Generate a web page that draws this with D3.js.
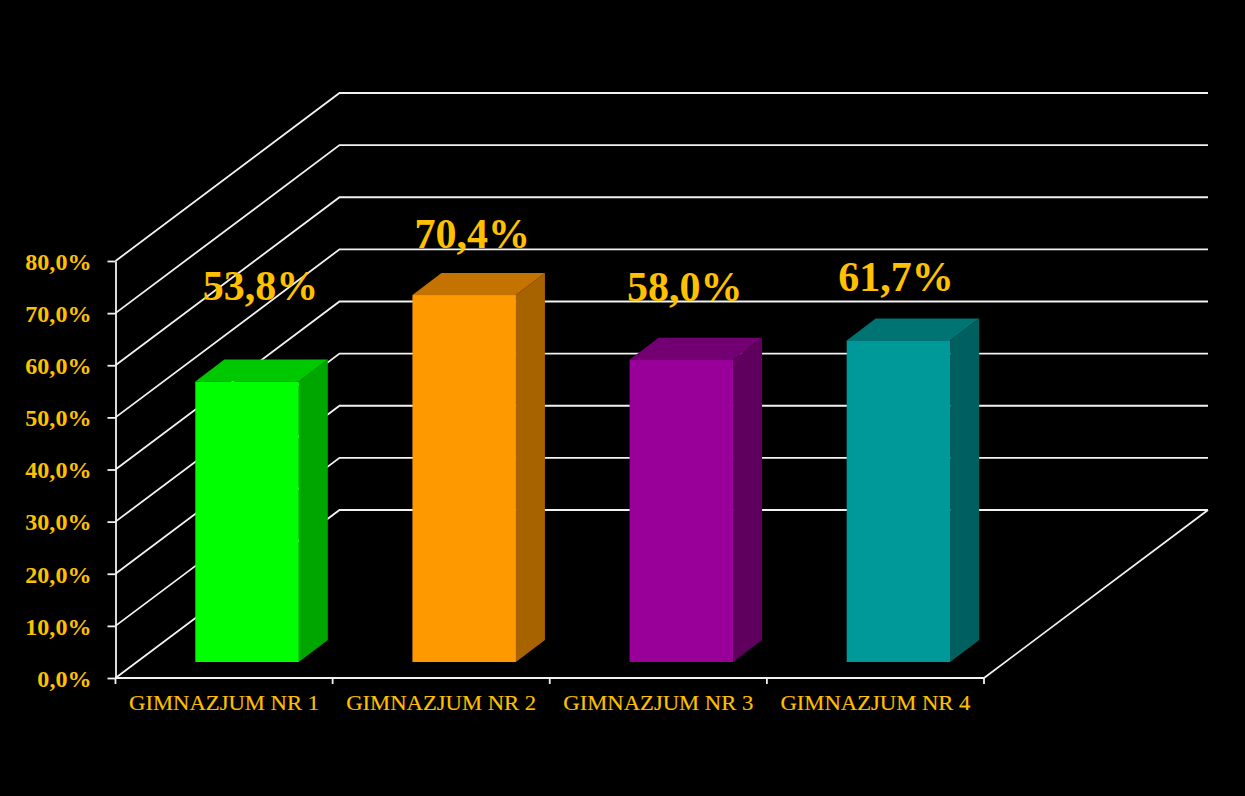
<!DOCTYPE html>
<html><head><meta charset="utf-8">
<script src="https://cdn.jsdelivr.net/npm/d3@7/dist/d3.min.js"></script>
<style>html,body{margin:0;background:#000;overflow:hidden}svg{display:block}</style></head>
<body><svg id="c" width="1245" height="796"></svg>
<script>
const categories = ["GIMNAZJUM NR 1","GIMNAZJUM NR 2","GIMNAZJUM NR 3","GIMNAZJUM NR 4"];
const values = [53.8,70.4,58.0,61.7];
const valueLabels = ["53,8%","70,4%","58,0%","61,7%"];
const tickValues = [0,10,20,30,40,50,60,70,80];
const tickLabels = ["0,0%","10,0%","20,0%","30,0%","40,0%","50,0%","60,0%","70,0%","80,0%"];
const frontColors = ["#00FF00","#FF9900","#990099","#009999"];
const topColors = ["#00C800","#C47200","#730073","#007373"];
const sideColors = ["#00A600","#A66300","#5F005F","#006060"];
// manual placement of the value labels, relative to each bar's top centre
const labelShiftX = [13.5,8,3.5,-2.5];
const labelShiftY = [-82,-47,-59,-49];

const svg = d3.select("#c");
const font = "'Liberation Serif','Times New Roman',serif";
const gold = "#FFC000", line = "#F2F2F2";
const y = d3.scaleLinear().domain([0,80]).range([678,261]);
const x = d3.scaleBand().domain(categories).range([115.5,984]);
const depthX = 224, depthY = -168;
const barInsetX = 23, barInsetY = -16, barDX = 29, barDY = -22;

// walls
const grid = svg.append("g").attr("fill","none").attr("stroke",line).attr("stroke-width",1.8);
grid.selectAll("path").data(tickValues).join("path")
  .attr("d", v => {
    const p = d3.path();
    p.moveTo(x.range()[0], y(v));
    p.lineTo(x.range()[0]+depthX, y(v)+depthY);
    p.lineTo(x.range()[1]+depthX, y(v)+depthY);
    return p.toString();
  });
grid.append("path").attr("d", () => {
  const p = d3.path();
  p.moveTo(x.range()[1], y(0));
  p.lineTo(x.range()[1]+depthX, y(0)+depthY);
  return p.toString();
});

// axes
const axL = svg.append("g").attr("transform",`translate(${x.range()[0]},0)`)
  .call(d3.axisLeft(y).tickValues(tickValues).tickFormat((d,i)=>tickLabels[i]).tickSize(8).tickSizeOuter(0).tickPadding(16));
axL.selectAll("path,line").attr("stroke",line).attr("stroke-width",1.8);
axL.selectAll("text").attr("fill",gold).attr("font-family",font).attr("font-size",22.5).attr("font-weight","bold")
  .attr("lengthAdjust","spacingAndGlyphs").attr("dy","0.37em")
  .attr("textLength",function(){return this.getComputedTextLength()*1.07;});

const axB = svg.append("g").attr("transform",`translate(0,${y(0)})`)
  .call(d3.axisBottom(x).tickSize(0).tickPadding(18));
axB.select("path").remove();
axB.selectAll("text").attr("fill",gold).attr("font-family",font).attr("font-size",20).attr("font-weight","normal")
  .attr("stroke",gold).attr("stroke-width",0.15)
  .attr("lengthAdjust","spacingAndGlyphs").attr("textLength",190);
const edges = [x.range()[0]].concat(categories.map(c=>x(c)+x.bandwidth()));
svg.append("g").selectAll("line").data(edges).join("line")
  .attr("x1",d=>d).attr("x2",d=>d).attr("y1",y(0)).attr("y2",y(0)+6)
  .attr("stroke",line).attr("stroke-width",1.8);
svg.append("line").attr("x1",x.range()[0]).attr("x2",x.range()[1]).attr("y1",y(0)).attr("y2",y(0)).attr("stroke",line).attr("stroke-width",1.8);

// bars
const barW = 103.5;
const bar = svg.append("g").selectAll("g").data(categories).join("g");
const bx = c => x(c) + barInsetX + (x.bandwidth()-barW)/2;
const pts = a => a.map(p=>p.join(",")).join(" ");
bar.append("polygon").attr("fill",(c,i)=>sideColors[i]).attr("points",(c,i)=>{
  const l=bx(c)+barW, t=y(values[i])+barInsetY, b=y(0)+barInsetY;
  return pts([[l,t],[l+barDX,t+barDY],[l+barDX,b+barDY],[l,b]]);
});
bar.append("polygon").attr("fill",(c,i)=>topColors[i]).attr("points",(c,i)=>{
  const l=bx(c), t=y(values[i])+barInsetY;
  return pts([[l,t],[l+barDX,t+barDY],[l+barW+barDX,t+barDY],[l+barW,t]]);
});
bar.append("rect").attr("fill",(c,i)=>frontColors[i])
  .attr("x",c=>bx(c)).attr("width",barW)
  .attr("y",(c,i)=>y(values[i])+barInsetY)
  .attr("height",(c,i)=>y(0)-y(values[i]));
bar.append("text").text((c,i)=>valueLabels[i])
  .attr("x",(c,i)=>bx(c)+barW/2+labelShiftX[i])
  .attr("y",(c,i)=>y(values[i])+barInsetY+labelShiftY[i])
  .attr("text-anchor","middle").attr("fill",gold)
  .attr("font-family",font).attr("font-size",42).attr("font-weight","bold");
</script></body></html>
